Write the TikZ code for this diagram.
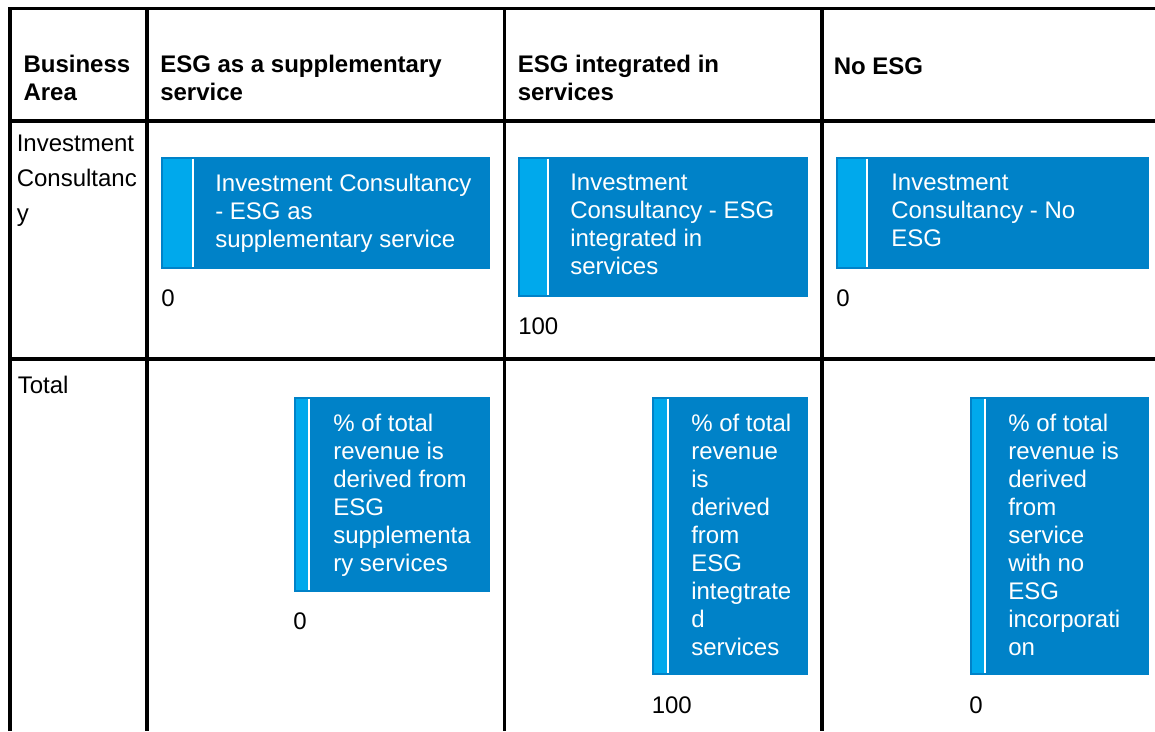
\documentclass[tikz,border=0pt]{standalone}
\usepackage{fontspec}
\setmainfont{Liberation Sans}
\usetikzlibrary{positioning}
\definecolor{tileblue}{RGB}{0,130,200}
\definecolor{stripeblue}{RGB}{0,169,236}
\tikzset{
    grid rule/.style={line width=2.5pt, black},
    raw cell text/.style={inner sep=0pt, anchor=north west, align=left, yshift=-1.2pt, font=\fontsize{18}{21}\selectfont, execute at begin node=\strut},
    head text/.style={raw cell text, font=\fontsize{18}{21}\selectfont\bfseries},
    cell text/.style={raw cell text},
    tile/.style={fill=tileblue},
    tile stripe/.style={fill=stripeblue},
    tile rule/.style={white, line width=1.5pt},
    tile text/.style={raw cell text, text=white},
    tile value/.style={raw cell text}
}

\begin{document}
\begin{tikzpicture}[x=0.75pt, y=-0.75pt]
	\useasboundingbox (0,0) rectangle (1155,731);
	% table rules
	\draw[grid rule] (10,731) -- (10,8.5) -- (1155,8.5);
	\draw[grid rule] (8.3,121) -- (1155,121);
	\draw[grid rule] (8.3,359) -- (1155,359);
	\foreach \x in {147,504.5,822}
		\draw[grid rule] (\x,8.5) -- (\x,731);

	% header row
	\node[head text] (head area) at (23.3,53.4) {Business\\Area};
	\node[head text] (head sup) at (160,53.4) {ESG as a supplementary\\service};
	\node[head text] (head int) at (517.5,53.4) {ESG integrated in\\services};
	\node[head text] (head no) at (833.5,53.4) {No ESG};

	% row labels
	\node[cell text] (row ic) at (16.5,133.4) {Investment\\[5.25pt]Consultanc\\[5.25pt]y};
	\node[cell text] (row total) at (17.5,372.4) {Total};

	% investment consultancy tiles
	\fill[tile] (161,157) rectangle (490,269);
	\fill[tile stripe] (162.7,158.7) rectangle (192,267.3);
	\draw[tile rule] (193,158.7) -- (193,267.3);
	\node[tile text] (ic sup) at (215,172.4) {Investment Consultancy\\- ESG as\\supplementary service};
	\node[tile value] (ic sup val) at (161,285.4) {0};

	\fill[tile] (518,157) rectangle (807.5,297);
	\fill[tile stripe] (519.7,158.7) rectangle (547,295.3);
	\draw[tile rule] (548,158.7) -- (548,295.3);
	\node[tile text] (ic int) at (570,172.4) {Investment\\Consultancy - ESG\\integrated in\\services};
	\node[tile value] (ic int val) at (518,313.4) {100};

	\fill[tile] (836,157) rectangle (1149,269);
	\fill[tile stripe] (837.7,158.7) rectangle (866,267.3);
	\draw[tile rule] (867,158.7) -- (867,267.3);
	\node[tile text] (ic no) at (891,172.4) {Investment\\Consultancy - No\\ESG};
	\node[tile value] (ic no val) at (836,285.4) {0};

	% total tiles
	\fill[tile] (294,397) rectangle (490,592);
	\fill[tile stripe] (295.7,398.7) rectangle (308,590.3);
	\draw[tile rule] (309,398.7) -- (309,590.3);
	\node[tile text] (tot sup) at (333,412.4) {\% of total\\revenue is\\derived from\\ESG\\supplementa\\ry services};
	\node[tile value] (tot sup val) at (293,608.4) {0};

	\fill[tile] (652,397) rectangle (807.5,675);
	\fill[tile stripe] (653.7,398.7) rectangle (667,673.3);
	\draw[tile rule] (668,398.7) -- (668,673.3);
	\node[tile text] (tot int) at (691,412.4) {\% of total\\revenue\\is\\derived\\from\\ESG\\integtrate\\d\\services};
	\node[tile value] (tot int val) at (651.5,692) {100};

	\fill[tile] (970,397) rectangle (1149,675);
	\fill[tile stripe] (971.7,398.7) rectangle (984,673.3);
	\draw[tile rule] (985,398.7) -- (985,673.3);
	\node[tile text] (tot no) at (1008,412.4) {\% of total\\revenue is\\derived\\from\\service\\with no\\ESG\\incorporati\\on};
	\node[tile value] (tot no val) at (969,692) {0};
\end{tikzpicture}
\end{document}
